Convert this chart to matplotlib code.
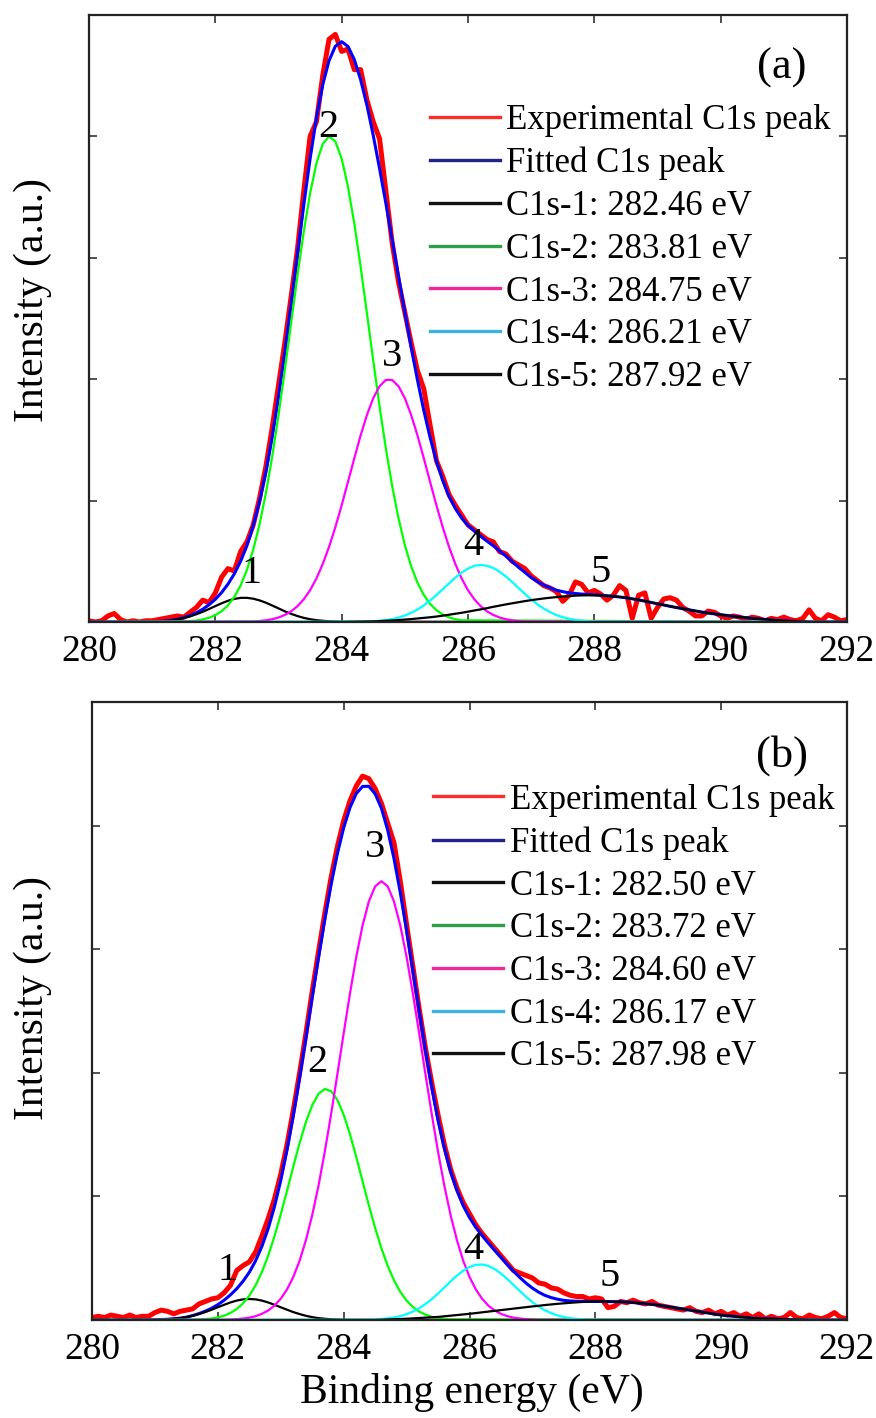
import numpy as np
import matplotlib
matplotlib.use('Agg')
import matplotlib.pyplot as plt
from matplotlib.lines import Line2D

plt.rcParams['font.family'] = ['Liberation Serif', 'DejaVu Serif']

# ============================================================
# data (intensity in arbitrary units)
# ============================================================
# measured + fitted envelope: 280.0 ... 292.0 eV, 0.1 eV steps
energy = np.round(np.linspace(280.0, 292.0, 121), 1)

# ---- panel (a) ----
exp_a = [0.01, 0.00, 0.01, 0.05, 0.07, 0.02, 0.00, 0.01, 0.00, 0.01,
         0.01, 0.02, 0.03, 0.04, 0.05, 0.04, 0.08, 0.12, 0.18, 0.16,
         0.24, 0.37, 0.44, 0.42, 0.58, 0.66, 0.80, 1.02, 1.28, 1.60,
         1.95, 2.30, 2.68, 3.07, 3.55, 4.00, 4.12, 4.50, 4.80, 4.84,
         4.70, 4.72, 4.55, 4.55, 4.30, 4.12, 3.98, 3.55, 3.12, 2.80,
         2.55, 2.30, 2.07, 1.92, 1.62, 1.33, 1.20, 1.05, 0.96, 0.88,
         0.80, 0.76, 0.72, 0.68, 0.66, 0.58, 0.56, 0.50, 0.47, 0.44,
         0.38, 0.34, 0.30, 0.28, 0.25, 0.17, 0.22, 0.33, 0.31, 0.24,
         0.26, 0.23, 0.18, 0.22, 0.30, 0.26, 0.03, 0.22, 0.24, 0.03,
         0.12, 0.19, 0.20, 0.18, 0.12, 0.09, 0.05, 0.05, 0.09, 0.08,
         0.05, 0.03, 0.05, 0.04, 0.02, 0.04, 0.03, 0.01, 0.03, 0.02,
         0.04, 0.02, 0.01, 0.03, 0.10, 0.03, 0.01, 0.06, 0.04, 0.01,
         0.02]
fit_a = [0, 0, 0, 0, 0, 0, 0, 0, 0.001, 0.002,
         0.003, 0.005, 0.008, 0.014, 0.023, 0.036, 0.053, 0.076, 0.105, 0.142,
         0.187, 0.243, 0.312, 0.396, 0.500, 0.628, 0.793, 0.991, 1.234, 1.521,
         1.853, 2.222, 2.620, 3.031, 3.435, 3.815, 4.150, 4.425, 4.624, 4.743,
         4.780, 4.741, 4.633, 4.467, 4.257, 4.008, 3.735, 3.448, 3.149, 2.847,
         2.551, 2.263, 1.993, 1.743, 1.519, 1.326, 1.165, 1.034, 0.934, 0.855,
         0.795, 0.750, 0.707, 0.666, 0.628, 0.586, 0.543, 0.497, 0.451, 0.409,
         0.366, 0.332, 0.304, 0.281, 0.262, 0.250, 0.240, 0.235, 0.230, 0.227,
         0.224, 0.221, 0.216, 0.212, 0.206, 0.200, 0.191, 0.182, 0.172, 0.161,
         0.150, 0.140, 0.129, 0.119, 0.110, 0.100, 0.091, 0.082, 0.074, 0.067,
         0.060, 0.054, 0.047, 0.041, 0.036, 0.030, 0.026, 0.021, 0.017, 0.013,
         0.010, 0.007, 0.005, 0.003, 0.001, 0, 0, 0, 0, 0,
         0]

# components: first energy of the non-zero part, then values every 0.1 eV
c1_a_start = 280.8
c1_a = [0.001, 0.002, 0.003, 0.005, 0.008, 0.013, 0.021, 0.032, 0.046, 0.064,
        0.084, 0.107, 0.131, 0.154, 0.175, 0.190, 0.199, 0.199, 0.192, 0.178,
        0.159, 0.136, 0.112, 0.088, 0.067, 0.049, 0.034, 0.023, 0.015, 0.010,
        0.006, 0.004, 0.002]
c2_a_start = 281.6
c2_a = [0.007, 0.012, 0.021, 0.035, 0.056, 0.089, 0.137, 0.206, 0.301, 0.429,
        0.596, 0.805, 1.061, 1.362, 1.704, 2.076, 2.465, 2.852, 3.214, 3.530,
        3.777, 3.938, 4.000, 3.958, 3.816, 3.586, 3.282, 2.927, 2.544, 2.153,
        1.776, 1.428, 1.118, 0.853, 0.634, 0.459, 0.324, 0.223, 0.149, 0.097,
        0.062, 0.038, 0.023, 0.014]
c3_a_start = 282.6
c3_a = [0.005, 0.008, 0.014, 0.023, 0.037, 0.058, 0.088, 0.130, 0.187, 0.262,
        0.358, 0.477, 0.618, 0.781, 0.962, 1.154, 1.349, 1.537, 1.705, 1.844,
        1.942, 1.994, 1.994, 1.942, 1.844, 1.705, 1.537, 1.349, 1.154, 0.962,
        0.781, 0.618, 0.477, 0.358, 0.262, 0.187, 0.130, 0.088, 0.058, 0.037,
        0.023, 0.014, 0.008, 0.005]
c4_a_start = 284.4
c4_a = [0.004, 0.006, 0.010, 0.016, 0.024, 0.036, 0.053, 0.075, 0.103, 0.137,
        0.177, 0.222, 0.270, 0.318, 0.366, 0.407, 0.440, 0.463, 0.470, 0.463,
        0.445, 0.414, 0.375, 0.329, 0.280, 0.232, 0.186, 0.145, 0.110, 0.081,
        0.057, 0.040, 0.027, 0.018, 0.011, 0.007, 0.004]
c5_a_start = 284.0
c5_a = [0, 0.001, 0.002, 0.003, 0.004, 0.005, 0.007, 0.010, 0.013, 0.016,
        0.020, 0.024, 0.029, 0.034, 0.039, 0.045, 0.052, 0.060, 0.068, 0.076,
        0.085, 0.095, 0.104, 0.114, 0.125, 0.135, 0.145, 0.154, 0.163, 0.172,
        0.180, 0.187, 0.194, 0.200, 0.205, 0.210, 0.213, 0.217, 0.219, 0.220,
        0.220, 0.219, 0.216, 0.212, 0.206, 0.200, 0.191, 0.182, 0.172, 0.161,
        0.150, 0.140, 0.129, 0.119, 0.110, 0.100, 0.091, 0.082, 0.074, 0.067,
        0.060, 0.054, 0.047, 0.041, 0.036, 0.030, 0.026, 0.021, 0.017, 0.013,
        0.010, 0.007, 0.005, 0.003, 0.001, 0]

# ---- panel (b) ----
exp_b = [0.02, 0.03, 0.02, 0.04, 0.03, 0.02, 0.04, 0.02, 0.03, 0.03,
         0.06, 0.08, 0.07, 0.05, 0.07, 0.08, 0.09, 0.13, 0.15, 0.17,
         0.18, 0.22, 0.28, 0.40, 0.44, 0.47, 0.55, 0.68, 0.82, 0.98,
         1.18, 1.42, 1.70, 2.00, 2.32, 2.66, 2.98, 3.29, 3.58, 3.83,
         4.04, 4.20, 4.32, 4.40, 4.38, 4.30, 4.18, 4.02, 3.86, 3.55,
         3.20, 2.86, 2.52, 2.20, 1.92, 1.66, 1.42, 1.22, 1.07, 0.95,
         0.86, 0.77, 0.70, 0.64, 0.58, 0.52, 0.46, 0.40, 0.38, 0.36,
         0.34, 0.30, 0.29, 0.26, 0.25, 0.22, 0.20, 0.19, 0.19, 0.17,
         0.18, 0.17, 0.10, 0.11, 0.15, 0.14, 0.16, 0.14, 0.13, 0.15,
         0.12, 0.11, 0.10, 0.09, 0.08, 0.10, 0.07, 0.06, 0.08, 0.05,
         0.07, 0.04, 0.06, 0.03, 0.05, 0.02, 0.05, 0.01, 0.03, 0.01,
         0.02, 0.06, 0.02, 0.01, 0.04, 0.02, 0.01, 0.03, 0.06, 0.02,
         0.01]
fit_b = [0, 0, 0, 0, 0, 0, 0, 0, 0.001, 0.001,
         0.002, 0.004, 0.006, 0.010, 0.015, 0.023, 0.036, 0.052, 0.071, 0.095,
         0.124, 0.160, 0.203, 0.253, 0.313, 0.386, 0.479, 0.595, 0.739, 0.916,
         1.129, 1.377, 1.655, 1.960, 2.282, 2.609, 2.932, 3.240, 3.523, 3.773,
         3.982, 4.145, 4.259, 4.317, 4.318, 4.257, 4.140, 3.963, 3.733, 3.458,
         3.152, 2.827, 2.498, 2.179, 1.882, 1.616, 1.389, 1.200, 1.048, 0.925,
         0.828, 0.750, 0.683, 0.622, 0.563, 0.506, 0.449, 0.394, 0.344, 0.298,
         0.258, 0.225, 0.199, 0.181, 0.168, 0.159, 0.154, 0.152, 0.152, 0.151,
         0.150, 0.150, 0.149, 0.148, 0.147, 0.145, 0.141, 0.136, 0.131, 0.126,
         0.120, 0.112, 0.104, 0.096, 0.088, 0.080, 0.072, 0.064, 0.056, 0.048,
         0.040, 0.035, 0.030, 0.025, 0.020, 0.015, 0.013, 0.011, 0.009, 0.007,
         0.005, 0.004, 0.003, 0.002, 0.001, 0, 0, 0, 0, 0,
         0]

c1_b_start = 280.8
c1_b = [0.001, 0.001, 0.002, 0.004, 0.006, 0.010, 0.015, 0.023, 0.034, 0.048,
        0.064, 0.083, 0.103, 0.123, 0.142, 0.157, 0.167, 0.170, 0.167, 0.157,
        0.142, 0.123, 0.103, 0.083, 0.064, 0.048, 0.034, 0.023, 0.015, 0.010,
        0.006, 0.004, 0.002, 0.001, 0.001]
c2_b_start = 281.6
c2_b = [0.002, 0.004, 0.007, 0.012, 0.021, 0.035, 0.057, 0.089, 0.134, 0.197,
        0.281, 0.388, 0.520, 0.677, 0.854, 1.046, 1.242, 1.432, 1.602, 1.738,
        1.830, 1.869, 1.852, 1.781, 1.661, 1.503, 1.320, 1.124, 0.929, 0.745,
        0.580, 0.438, 0.321, 0.228, 0.157, 0.105, 0.068, 0.043, 0.026, 0.016,
        0.009, 0.005]
c3_b_start = 282.1
c3_b = [0.002, 0.004, 0.007, 0.012, 0.019, 0.031, 0.050, 0.077, 0.116, 0.172,
        0.248, 0.349, 0.480, 0.646, 0.848, 1.087, 1.361, 1.665, 1.988, 2.319,
        2.641, 2.938, 3.191, 3.386, 3.508, 3.550, 3.508, 3.386, 3.191, 2.938,
        2.641, 2.319, 1.988, 1.665, 1.361, 1.087, 0.848, 0.646, 0.480, 0.349,
        0.248, 0.172, 0.116, 0.077, 0.050, 0.031, 0.019, 0.012, 0.007, 0.004,
        0.002]
c4_b_start = 284.4
c4_b = [0.003, 0.004, 0.008, 0.013, 0.020, 0.031, 0.047, 0.068, 0.095, 0.129,
        0.169, 0.214, 0.263, 0.312, 0.359, 0.399, 0.429, 0.446, 0.449, 0.438,
        0.412, 0.376, 0.332, 0.283, 0.234, 0.187, 0.144, 0.108, 0.078, 0.055,
        0.037, 0.024, 0.015, 0.009, 0.006, 0.003]
c5_b_start = 284.5
c5_b = [0.000, 0.002, 0.004, 0.006, 0.008, 0.010, 0.013, 0.016, 0.019, 0.022,
        0.025, 0.030, 0.035, 0.040, 0.045, 0.050, 0.056, 0.062, 0.068, 0.074,
        0.080, 0.086, 0.092, 0.098, 0.104, 0.110, 0.115, 0.121, 0.126, 0.131,
        0.135, 0.139, 0.143, 0.146, 0.148, 0.150, 0.150, 0.149, 0.148, 0.147,
        0.145, 0.141, 0.136, 0.131, 0.126, 0.120, 0.112, 0.104, 0.096, 0.088,
        0.080, 0.072, 0.064, 0.056, 0.048, 0.040, 0.035, 0.030, 0.025, 0.020,
        0.015, 0.013, 0.011, 0.009, 0.007, 0.005, 0.004, 0.003, 0.002, 0.001,
        0]

# legend texts
labels_a = ['Experimental C1s peak', 'Fitted C1s peak',
            'C1s-1: 282.46 eV', 'C1s-2: 283.81 eV', 'C1s-3: 284.75 eV',
            'C1s-4: 286.21 eV', 'C1s-5: 287.92 eV']
labels_b = ['Experimental C1s peak', 'Fitted C1s peak',
            'C1s-1: 282.50 eV', 'C1s-2: 283.72 eV', 'C1s-3: 284.60 eV',
            'C1s-4: 286.17 eV', 'C1s-5: 287.98 eV']

# peak numbers (label text, x in eV, y in a.u.)
peak_tags = ['1', '2', '3', '4', '5']
tag_x_a = [282.58, 283.79, 284.80, 286.08, 288.10]
tag_y_a = [0.40, 4.07, 2.19, 0.63, 0.41]
tag_x_b = [282.16, 283.58, 284.50, 286.06, 288.23]
tag_y_b = [0.40, 2.08, 3.82, 0.57, 0.35]

# colours
comp_colors = ['black', '#00ff00', '#ff00ff', '#00ffff', 'black']
legend_colors = ['#ff2a2a', '#22228c', '#111111', '#2e9e4a', '#f0289a',
                 '#3ab4dc', '#111111']


def comp_xy(start, vals):
    # component drawn across the whole window, zero outside its peak
    x = start + 0.1 * np.arange(len(vals))
    return np.r_[280.0, x, 292.0], np.r_[0.0, vals, 0.0]


def draw_panel(ax, exp, fit, comps, labels, tag_x, tag_y, letter,
               leg_anchor):
    ax.plot(energy, exp, color='#ff0000', lw=3.6, zorder=2,
            solid_joinstyle='round')
    ax.plot(energy, fit, color='#0000ff', lw=2.2, zorder=3)
    for (start, vals), col in zip(comps, comp_colors):
        x, y = comp_xy(start, vals)
        ax.plot(x, y, color=col, lw=1.6, zorder=4)

    for t, x, y in zip(peak_tags, tag_x, tag_y):
        ax.text(x, y, t, fontsize=29, ha='center', va='center', zorder=6)

    ax.text(0.914, 0.913, letter, transform=ax.transAxes, fontsize=32,
            ha='center', va='center')

    handles = [Line2D([], [], color=c, lw=2.4) for c in legend_colors]
    ax.legend(handles, labels, loc='upper left', bbox_to_anchor=leg_anchor,
              frameon=False, fontsize=25, handlelength=2.0,
              handletextpad=0.2, labelspacing=0.28, borderpad=0,
              borderaxespad=0)

    ax.set_xlim(280, 292)
    ax.set_ylim(0, 5)
    ax.set_xticks(np.arange(280, 293, 2))
    ax.set_yticks([1, 2, 3, 4])
    ax.set_yticklabels([])
    ax.tick_params(direction='in', top=True, right=True, length=6,
                   width=1.2, labelsize=27, pad=9, color='#333333')
    for sp in ax.spines.values():
        sp.set_linewidth(1.6)
        sp.set_color('#222222')
        sp.set_zorder(7)


fig = plt.figure(figsize=(8.76, 14.18), dpi=100)
ax_a = fig.add_axes([89 / 876, 1 - 622 / 1418, 758 / 876, 607 / 1418])
ax_b = fig.add_axes([92 / 876, 1 - 1320 / 1418, 755 / 876, 618 / 1418])

comps_a = [(c1_a_start, c1_a), (c2_a_start, c2_a), (c3_a_start, c3_a),
           (c4_a_start, c4_a), (c5_a_start, c5_a)]
comps_b = [(c1_b_start, c1_b), (c2_b_start, c2_b), (c3_b_start, c3_b),
           (c4_b_start, c4_b), (c5_b_start, c5_b)]

draw_panel(ax_a, exp_a, fit_a, comps_a, labels_a, tag_x_a, tag_y_a, '(a)',
           (0.45, 0.853))
draw_panel(ax_b, exp_b, fit_b, comps_b, labels_b, tag_x_b, tag_y_b, '(b)',
           (0.452, 0.868))

fig.text(33 / 876, 1 - 300 / 1418, 'Intensity (a.u.)', rotation=90,
         fontsize=30, ha='center', va='center')
fig.text(33 / 876, 1 - 998 / 1418, 'Intensity (a.u.)', rotation=90,
         fontsize=30, ha='center', va='center')
fig.text(472 / 876, 1 - 1392 / 1418, 'Binding energy (eV)', fontsize=30,
         ha='center', va='center')

fig.savefig('out.png', dpi=100)
